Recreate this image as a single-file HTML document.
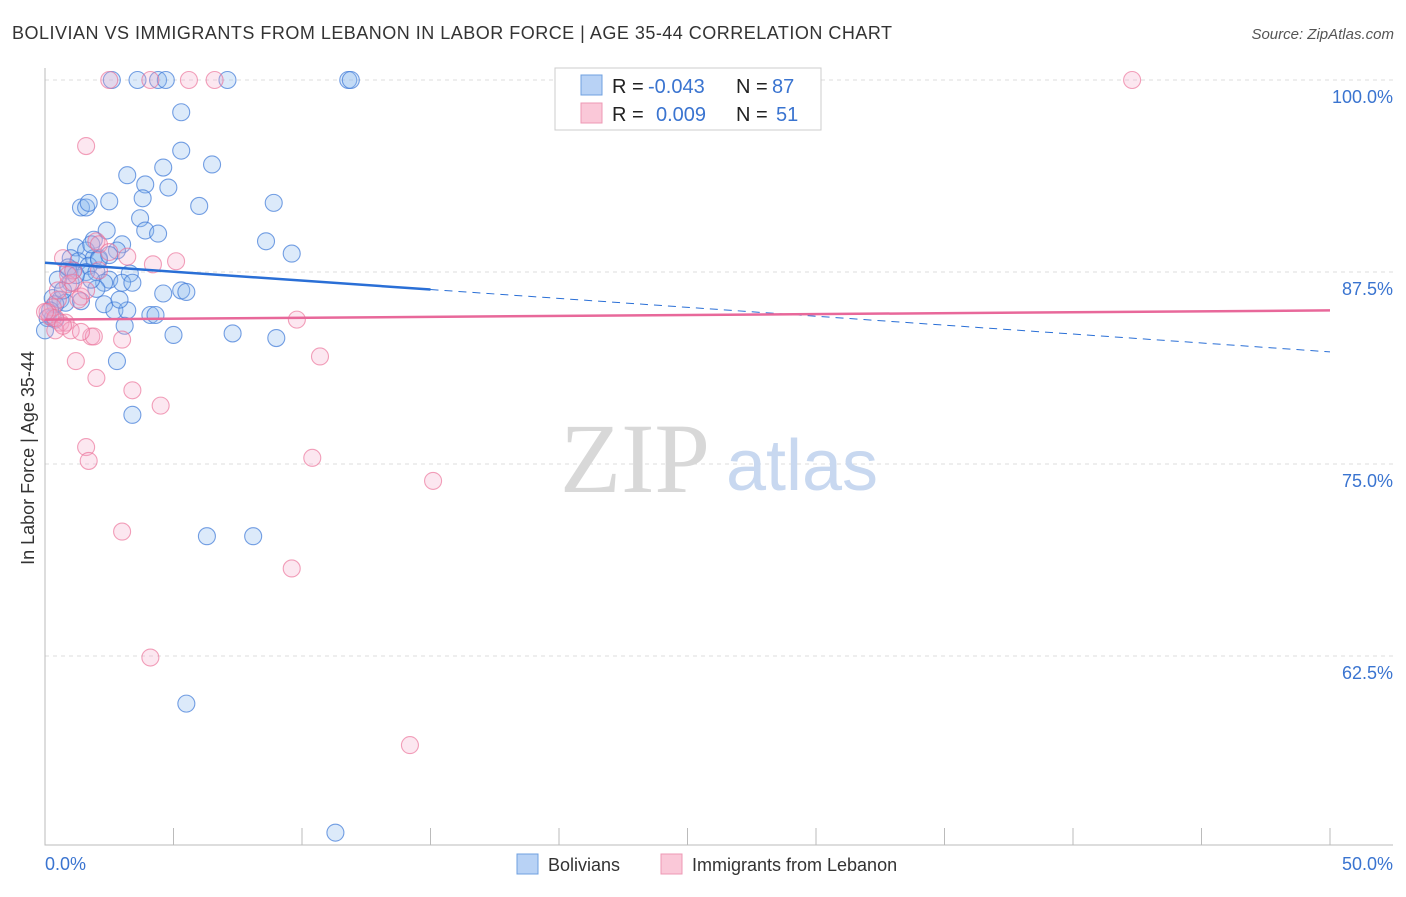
<!DOCTYPE html>
<html><head><meta charset="utf-8"><style>
body{margin:0;background:#fff;font-family:"Liberation Sans",sans-serif;}
</style></head><body>
<svg id="chart" width="1406" height="892" font-family="Liberation Sans, sans-serif">
<text x="12" y="39" font-size="18" fill="#333" textLength="880">BOLIVIAN VS IMMIGRANTS FROM LEBANON IN LABOR FORCE | AGE 35-44 CORRELATION CHART</text>
<text x="1394" y="39" font-size="15" fill="#555" font-style="italic" text-anchor="end">Source: ZipAtlas.com</text>
<text transform="translate(34,458) rotate(-90)" font-size="18" fill="#333" text-anchor="middle">In Labor Force | Age 35-44</text>
<g id="grid"></g>
<g id="wm"><text x="635" y="492" font-size="100" style="font-family:'Liberation Serif',serif" fill="#d8d8d8" text-anchor="middle">ZIP</text><text x="802" y="490" font-size="72" fill="#c8d8f0" text-anchor="middle">atlas</text></g>
<g id="pts"></g>
<g id="lines"></g>
<g id="legend">
<rect x="555" y="68" width="266" height="62" fill="#fff" stroke="#ccc"/>
<rect x="581" y="75" width="21" height="20" fill="#b8d2f5" stroke="#6fa0e0"/>
<rect x="581" y="103" width="21" height="20" fill="#fac8d8" stroke="#ee98b4"/>
<text x="612" y="93" font-size="20" fill="#222">R = </text><text x="648" y="93" font-size="20" fill="#3a74d0">-0.043</text>
<text x="736" y="93" font-size="20" fill="#222">N = </text><text x="772" y="93" font-size="20" fill="#3a74d0">87</text>
<text x="612" y="121" font-size="20" fill="#222">R = </text><text x="656" y="121" font-size="20" fill="#3a74d0">0.009</text>
<text x="736" y="121" font-size="20" fill="#222">N = </text><text x="776" y="121" font-size="20" fill="#3a74d0">51</text>
</g>
<g>
<rect x="517" y="854" width="21" height="20" fill="#b8d2f5" stroke="#6fa0e0"/>
<text x="548" y="871" font-size="18" fill="#333">Bolivians</text>
<rect x="661" y="854" width="21" height="20" fill="#fac8d8" stroke="#ee98b4"/>
<text x="692" y="871" font-size="18" fill="#333">Immigrants from Lebanon</text>
</g>
</svg>
<script>
const yTicks=[100,87.5,75,62.5];
const yTickLabels=["100.0%","87.5%","75.0%","62.5%"];
const xTickLabels=["0.0%","50.0%"];
const blueX=[2.6,3.6,4.4,4.7,7.1,11.8,11.9,5.3,5.3,6.5,4.6,3.2,3.9,4.8,1.4,1.6,1.7,2.5,6.0,8.9,3.8,3.7,3.9,4.4,2.4,1.9,3.0,8.6,9.6,1.2,1.6,2.8,1.0,1.3,1.9,2.1,1.7,0.9,1.1,1.6,2.0,3.3,2.5,2.3,3.0,1.0,3.4,0.5,2.0,5.3,5.5,4.6,0.3,0.6,0.8,1.4,2.3,2.7,3.2,4.1,4.3,0.1,0.3,0.4,3.1,5.0,7.3,9.0,0.0,2.8,3.4,6.3,8.1,5.5,11.3,2.1,0.9,1.8,0.4,0.2,2.9,0.7,1.2,2.5,1.8];
const blueY=[100,100,100,100,100,100,100,97.9,95.4,94.5,94.3,93.8,93.2,93.0,91.7,91.7,92.0,92.1,91.8,92.0,92.3,91.0,90.2,90.0,90.2,89.6,89.3,89.5,88.7,89.1,88.9,88.9,88.4,88.2,88.4,88.4,87.9,87.6,87.6,87.5,87.5,87.4,87.0,86.8,86.8,86.8,86.8,87.0,86.4,86.3,86.2,86.1,85.8,85.7,85.5,85.6,85.4,85.0,85.0,84.7,84.7,84.5,84.5,84.4,84.0,83.4,83.5,83.2,83.7,81.7,78.2,70.3,70.3,59.4,51.0,88.3,87.8,87.0,85.4,85.0,85.7,86.3,87.3,88.6,89.3];
const pinkX=[2.5,4.1,5.6,6.6,42.3,1.6,2.0,2.1,3.2,4.2,5.1,0.7,1.1,0.9,1.1,1.4,0.5,0.3,0.2,0.6,0.8,1.0,0.4,1.8,1.9,3.0,9.8,10.7,1.2,2.0,3.4,4.5,1.6,1.7,10.4,15.1,3.0,9.6,4.1,14.2,0.1,0.4,0.7,1.4,2.1,0.0,0.5,1.6,1.3,2.5,0.9];
const pinkY=[100,100,100,100,100,95.7,89.5,89.3,88.5,88.0,88.2,88.4,87.6,86.7,86.8,85.9,85.7,85.2,84.6,84.2,84.2,83.7,83.7,83.3,83.3,83.1,84.4,82.0,81.7,80.6,79.8,78.8,76.1,75.2,75.4,73.9,70.6,68.2,62.4,56.7,84.9,84.5,84.0,83.6,87.6,84.9,86.3,86.3,85.7,88.8,87.3];
const blueTrend=[88.1,82.3];
const pinkTrend=[84.4,85.0];
const NS="http://www.w3.org/2000/svg";
function sx(v){return 45+v/50*1285;}
function sy(v){return 80+(100-v)/12.5*192;}
function mk(tag,attrs,parent){const e=document.createElementNS(NS,tag);for(const k in attrs)e.setAttribute(k,attrs[k]);parent.appendChild(e);return e;}
const grid=document.getElementById('grid');
yTicks.forEach((t,i)=>{
  const l=mk('line',{x1:45,x2:1393,y1:sy(t),y2:sy(t),stroke:'#ddd','stroke-dasharray':'4,4'},grid);
  
  
  const tx=mk('text',{x:1393,y:sy(t)+23,'font-size':18,fill:'#3a74d0','text-anchor':'end'},grid);
  tx.textContent=yTickLabels[i];
  
  
});
const ax=mk('path',{d:'M45 68V845H1393',stroke:'#bbb',fill:'none'},grid);


for(let i=0;i<=10;i++){const x=sx(i*5);const tk=mk('line',{x1:x,x2:x,y1:828,y2:845,stroke:'#bbb'},grid);

}
[[0,'start',45],[50,'end',1393]].forEach((d,i)=>{const t=mk('text',{x:d[2],y:870,'font-size':18,fill:'#3a74d0','text-anchor':d[1]},grid);t.textContent=xTickLabels[i];

});
const pts=document.getElementById('pts');
blueX.forEach((x,i)=>{const c=mk('circle',{cx:sx(x),cy:sy(blueY[i]),r:8.5,fill:'rgba(140,185,240,0.3)',stroke:'rgba(60,120,215,0.7)','stroke-width':1.1},pts);

});
pinkX.forEach((x,i)=>{const c=mk('circle',{cx:sx(x),cy:sy(pinkY[i]),r:8.5,fill:'rgba(245,170,200,0.28)',stroke:'rgba(235,110,150,0.65)','stroke-width':1.1},pts);

});
const lines=document.getElementById('lines');
const bAt=v=>blueTrend[0]+(blueTrend[1]-blueTrend[0])*v/50;
let l1=mk('line',{x1:sx(0),y1:sy(bAt(0)),x2:sx(15),y2:sy(bAt(15)),stroke:'#2a6fd6','stroke-width':2.5},lines);


let l2=mk('line',{x1:sx(15),y1:sy(bAt(15)),x2:sx(50),y2:sy(bAt(50)),stroke:'#2a6fd6','stroke-width':1,'stroke-dasharray':'8,6'},lines);


let l3=mk('line',{x1:sx(0),y1:sy(pinkTrend[0]),x2:sx(50),y2:sy(pinkTrend[1]),stroke:'#e8689a','stroke-width':2.5},lines);


</script>
</body></html>
